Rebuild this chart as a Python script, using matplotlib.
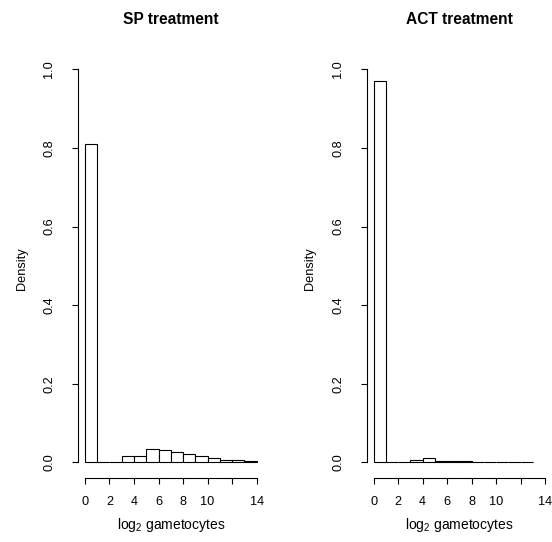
import matplotlib
matplotlib.use('Agg')
import matplotlib.pyplot as plt
from matplotlib.patches import Rectangle

plt.rcParams['font.family'] = ['Liberation Sans', 'DejaVu Sans']
plt.rcParams['mathtext.fontset'] = 'custom'
plt.rcParams['mathtext.rm'] = 'Liberation Sans'
plt.rcParams['mathtext.it'] = 'Liberation Sans:italic'

# histogram data: unit-width bins starting at 0
sp_density = [0.81, 0.0, 0.001, 0.017, 0.017, 0.035, 0.032, 0.025,
              0.022, 0.015, 0.011, 0.007, 0.006, 0.002]
act_density = [0.971, 0.0, 0.0, 0.007, 0.012, 0.004, 0.002, 0.002,
               0.0, 0.0, 0.0, 0.0, 0.001]
titles = ['SP treatment', 'ACT treatment']
x_ticks = [0, 2, 4, 6, 8, 10, 12, 14]
x_tick_labels = ['0', '2', '4', '6', '8', '10', '', '14']
y_ticks = [0.0, 0.2, 0.4, 0.6, 0.8, 1.0]
y_tick_labels = ['0.0', '0.2', '0.4', '0.6', '0.8', '1.0']

W, H = 552, 542
fig = plt.figure(figsize=(W / 100, H / 100), dpi=100)

# axes boxes in pixels: left, top, right, bottom
boxes = [(78.1, 53.6, 263.5, 478.0), (366.7, 53.6, 552.0, 478.0)]

for dens, title, (l, t, r, b), ylab_x in zip([sp_density, act_density], titles, boxes, [22, 310]):
    ax = fig.add_axes([l / W, 1 - b / H, (r - l) / W, (b - t) / H])
    for i, d in enumerate(dens):
        ax.add_patch(Rectangle((i, 0), 1, d, facecolor='white',
                               edgecolor='black', linewidth=0.8))
    ax.set_xlim(-0.56, 14.56)
    ax.set_ylim(-0.04, 1.04)
    for s in ['top', 'right']:
        ax.spines[s].set_visible(False)
    ax.spines['left'].set_bounds(0, 1)
    ax.spines['bottom'].set_bounds(0, 14)
    for s in ['left', 'bottom']:
        ax.spines[s].set_linewidth(0.8)
    ax.set_xticks(x_ticks)
    ax.set_xticklabels(x_tick_labels)
    ax.set_yticks(y_ticks)
    ax.set_yticklabels(y_tick_labels, rotation=90, va='center')
    ax.tick_params(axis='both', length=4.3, width=0.8, labelsize=9.2)
    ax.tick_params(axis='x', pad=9)
    ax.tick_params(axis='y', pad=12)
    ax.patch.set_visible(False)

    cx = (l + r) / 2
    fig.text(cx / W, 1 - 20 / H, title, ha='center', va='center',
             fontsize=11.2, fontweight='bold')
    fig.text(cx / W, 1 - 525 / H, r'log$_2$ gametocytes', ha='center',
             va='center', fontsize=10)
    fig.text(ylab_x / W, 1 - ((t + b) / 2 + 3) / H, 'Density', rotation=90,
             ha='center', va='center', fontsize=9.2)

fig.savefig('out.png', dpi=100)
